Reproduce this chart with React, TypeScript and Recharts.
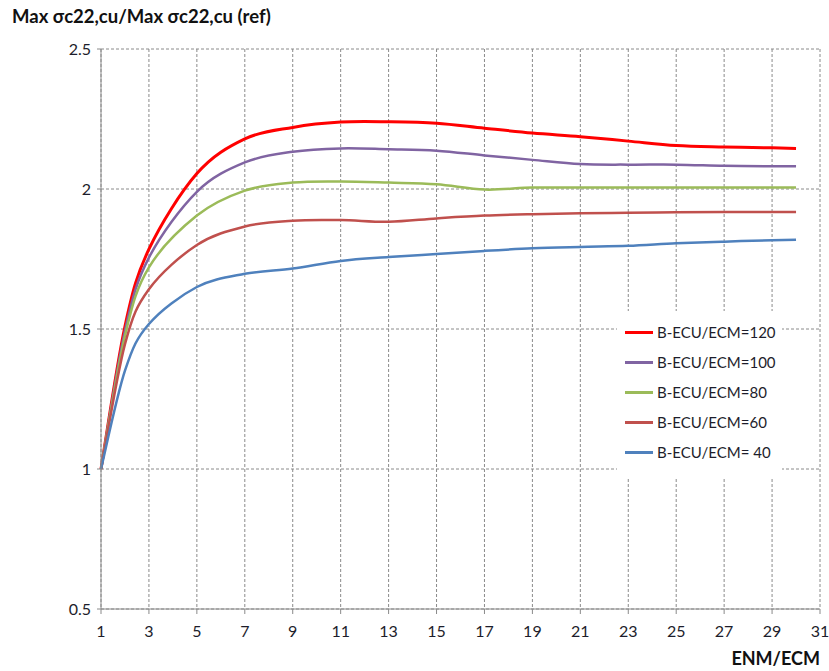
import { LineChart, Line, XAxis, YAxis, CartesianGrid } from "recharts"

const xValues = [1, 2, 3, 5, 7, 9, 11, 13, 15, 17, 19, 21, 23, 25, 27, 29, 30]
const xTicks = [1, 3, 5, 7, 9, 11, 13, 15, 17, 19, 21, 23, 25, 27, 29, 31]
const yTicks = [0.5, 1, 1.5, 2, 2.5]

const ratio120 = [1, 1.51, 1.785, 2.055, 2.179, 2.22, 2.239, 2.24, 2.235, 2.217, 2.2, 2.187, 2.171, 2.155, 2.15, 2.147, 2.145]
const ratio100 = [1, 1.494, 1.755, 1.99, 2.095, 2.133, 2.145, 2.142, 2.137, 2.12, 2.104, 2.089, 2.087, 2.087, 2.083, 2.081, 2.081]
const ratio80 = [1, 1.476, 1.72, 1.905, 1.994, 2.023, 2.027, 2.023, 2.017, 1.998, 2.005, 2.005, 2.005, 2.005, 2.005, 2.005, 2.005]
const ratio60 = [1, 1.446, 1.642, 1.8, 1.866, 1.887, 1.889, 1.883, 1.895, 1.905, 1.91, 1.913, 1.915, 1.917, 1.918, 1.918, 1.918]
const ratio40 = [1, 1.351, 1.518, 1.65, 1.697, 1.716, 1.743, 1.757, 1.768, 1.779, 1.788, 1.793, 1.797, 1.806, 1.812, 1.817, 1.819]

const series = [
  { key: "r120", label: "B-ECU/ECM=120", color: "#ff0000", values: ratio120, width: 3 },
  { key: "r100", label: "B-ECU/ECM=100", color: "#8064a2", values: ratio100, width: 2.5 },
  { key: "r80", label: "B-ECU/ECM=80", color: "#9bbb59", values: ratio80, width: 2.5 },
  { key: "r60", label: "B-ECU/ECM=60", color: "#c0504d", values: ratio60, width: 2.5 },
  { key: "r40", label: "B-ECU/ECM= 40", color: "#4f81bd", values: ratio40, width: 2.5 },
]

const data = xValues.map((x, i) => {
  const row: Record<string, number> = { x }
  series.forEach((s) => {
    row[s.key] = s.values[i]
  })
  return row
})

// Excel-style smoothed line (uniform Catmull-Rom as bezier segments)
function excelSmooth(context: any) {
  let pts: number[][] = []
  return {
    areaStart() {},
    areaEnd() {},
    lineStart() {
      pts = []
    },
    point(x: number, y: number) {
      pts.push([+x, +y])
    },
    lineEnd() {
      if (!pts.length) return
      context.moveTo(pts[0][0], pts[0][1])
      for (let i = 0; i < pts.length - 1; i++) {
        const p0 = pts[i - 1] || pts[i]
        const p1 = pts[i]
        const p2 = pts[i + 1]
        const p3 = pts[i + 2] || p2
        context.bezierCurveTo(
          p1[0] + (p2[0] - p0[0]) / 6,
          p1[1] + (p2[1] - p0[1]) / 6,
          p2[0] - (p3[0] - p1[0]) / 6,
          p2[1] - (p3[1] - p1[1]) / 6,
          p2[0],
          p2[1]
        )
      }
    },
  }
}

const font = "Lato, 'Open Sans', sans-serif"
const textColor = "#1d1d2b"

export default function App() {
  return (
    <div style={{ position: "absolute", left: 0, top: 0, width: 829, height: 671, background: "white" }}>
      <div
        style={{
          position: "absolute",
          left: 12,
          top: 5,
          fontFamily: font,
          fontWeight: 700,
          fontSize: 18.5,
          color: "#111",
        }}
      >
        Max σc22,cu/Max σc22,cu (ref)
      </div>
      <LineChart width={829} height={671} data={data} margin={{ top: 49, right: 9, bottom: 32, left: 0 }}>
        <CartesianGrid stroke="#8a8a8a" strokeDasharray="3 2" />
        <XAxis
          dataKey="x"
          type="number"
          domain={[1, 31]}
          ticks={xTicks}
          interval={0}
          height={30}
          stroke="#8a8a8a"
          tickSize={5}
          tick={{ fill: textColor, fontSize: 16, fontFamily: font }}
          tickMargin={12}
        />
        <YAxis
          type="number"
          domain={[0.5, 2.5]}
          ticks={yTicks}
          interval={0}
          stroke="#8a8a8a"
          tickSize={4}
          width={101}
          tick={{ fill: textColor, fontSize: 16, fontFamily: font }}
          tickMargin={6}
        />
        {series.map((s) => (
          <Line
            key={s.key}
            type={excelSmooth as any}
            dataKey={s.key}
            stroke={s.color}
            strokeWidth={s.width}
            dot={false}
            isAnimationActive={false}
          />
        ))}
      </LineChart>
      {/* legend sits inside the plot area, white box over the grid */}
      <div
        style={{
          position: "absolute",
          left: 617,
          top: 311,
          width: 157,
          padding: "6px 0 10px 8px",
          background: "white",
          fontFamily: font,
        }}
      >
        {series.map((s) => (
          <div key={s.key} style={{ display: "flex", alignItems: "center", height: 30 }}>
            <div style={{ width: 28, height: 3, background: s.color, marginRight: 4 }} />
            <span style={{ fontSize: 15, color: textColor }}>{s.label}</span>
          </div>
        ))}
      </div>
      <div
        style={{
          position: "absolute",
          right: 9,
          top: 647,
          fontFamily: font,
          fontWeight: 700,
          fontSize: 18,
          color: "#111",
        }}
      >
        ENM/ECM
      </div>
    </div>
  )
}
